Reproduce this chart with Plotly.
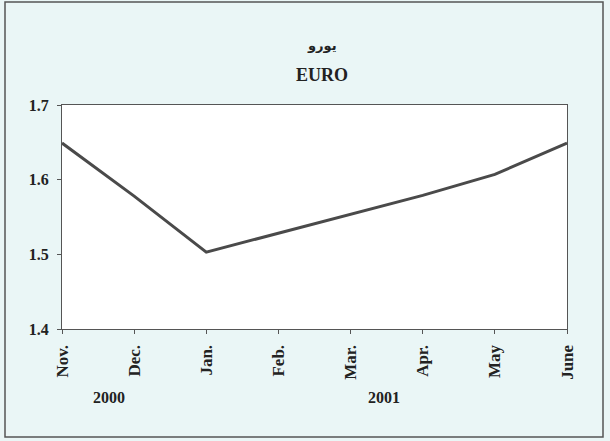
import plotly.graph_objects as go

months = ["Nov.", "Dec.", "Jan.", "Feb.", "Mar.", "Apr.", "May", "June"]
euro = [1.649, 1.578, 1.503, 1.528, 1.553, 1.579, 1.607, 1.649]
y_ticks = [1.4, 1.5, 1.6, 1.7]
y_labels = ["1.4", "1.5", "1.6", "1.7"]
years = ["2000", "2001"]
year_pos = [0.65, 4.47]

W, H = 610, 441
L, R, T, B = 62, 43, 105, 112
pw, ph = W - L - R, H - T - B

def px_x(p):
    return (p - L) / pw

def px_y(p):
    return (H - B - p) / ph

font_fam = "Liberation Serif, Times New Roman, serif"
xi = list(range(len(months)))

fig = go.Figure()
fig.add_trace(go.Scatter(
    x=xi, y=euro, mode="lines",
    line=dict(color="#4a4a4a", width=3),
    hoverinfo="skip", showlegend=False,
))

fig.update_layout(
    width=W, height=H,
    margin=dict(l=L, r=R, t=T, b=B),
    paper_bgcolor="#eaf6f6",
    plot_bgcolor="#ffffff",
    font=dict(family=font_fam, color="#222222"),
    showlegend=False,
    xaxis=dict(
        range=[0, len(months) - 1],
        tickmode="array", tickvals=xi, ticktext=months,
        tickangle=-90,
        tickfont=dict(family=font_fam, size=17, weight="bold", color="#222"),
        ticks="outside", ticklen=4, tickcolor="#555", ticklabelstandoff=4,
        showgrid=False, zeroline=False,
        showline=True, linecolor="#555", linewidth=1.2, mirror=True,
    ),
    yaxis=dict(
        range=[1.4, 1.7],
        tickmode="array", tickvals=y_ticks, ticktext=y_labels,
        tickfont=dict(family=font_fam, size=16, weight="bold", color="#222"),
        ticks="outside", ticklen=4, tickcolor="#555", ticklabelstandoff=5,
        showgrid=False, zeroline=False,
        showline=True, linecolor="#555", linewidth=1.2, mirror=True,
    ),
)

fig.add_annotation(text="يورو", xref="paper", yref="paper",
                   x=px_x(322), y=px_y(45), showarrow=False,
                   xanchor="center", yanchor="middle",
                   font=dict(family="DejaVu Sans, Noto Sans", size=13, weight="bold", color="#222"))
fig.add_annotation(text="EURO", xref="paper", yref="paper",
                   x=px_x(322), y=px_y(75), showarrow=False,
                   xanchor="center", yanchor="middle",
                   font=dict(family=font_fam, size=18, weight="bold", color="#222"))

for yr, pos in zip(years, year_pos):
    fig.add_annotation(text=yr, xref="x", yref="paper",
                       x=pos, y=px_y(397), showarrow=False,
                       xanchor="center", yanchor="middle",
                       font=dict(family=font_fam, size=16, weight="bold", color="#222"))

# outer frame
fig.add_shape(type="rect", xref="paper", yref="paper",
              x0=px_x(5), x1=px_x(603), y0=px_y(437), y1=px_y(2),
              line=dict(color="#555", width=1.5), fillcolor="rgba(0,0,0,0)", layer="below")

fig.write_html("out.html", config={"displayModeBar": False},
               post_script="document.body.style.margin='0';document.body.style.overflow='hidden';")
